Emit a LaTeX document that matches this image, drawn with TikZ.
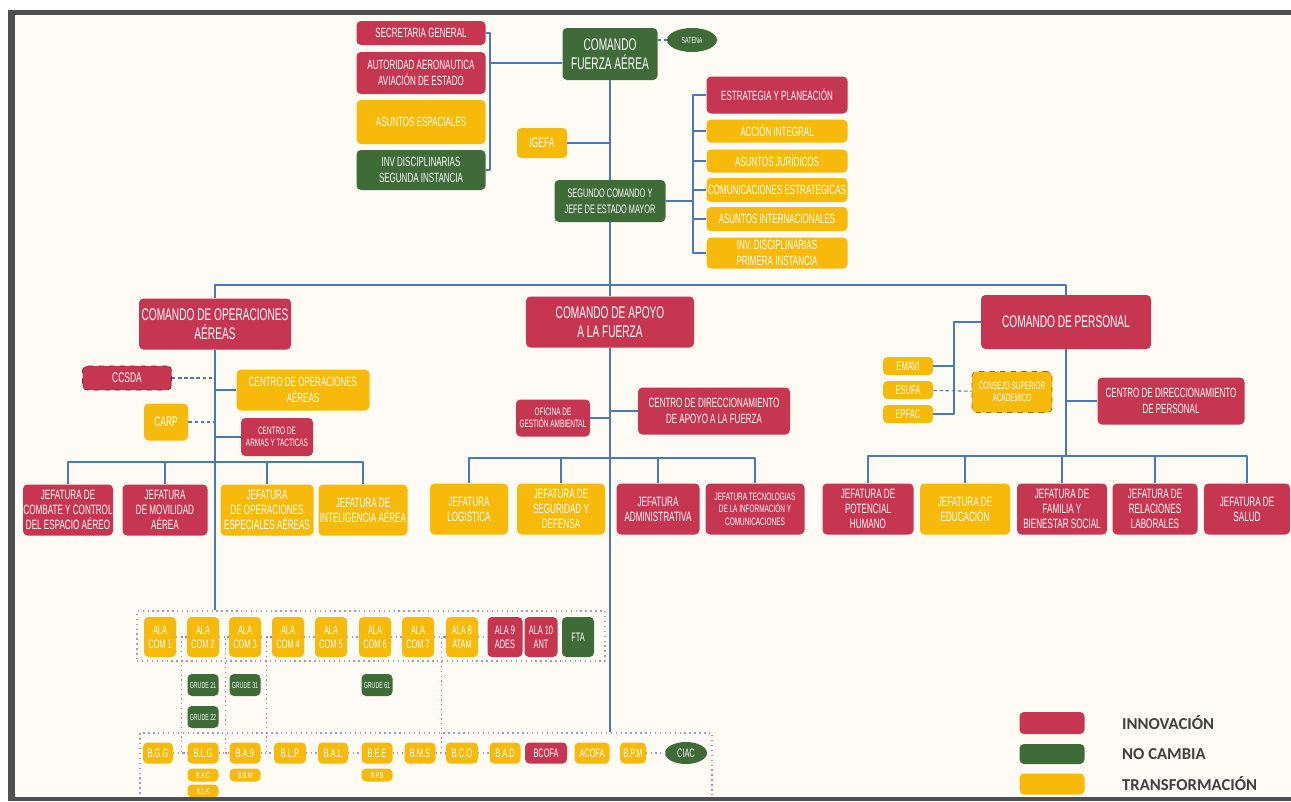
\documentclass[tikz,border=0pt]{standalone}
\usepackage{fontspec}
\setmainfont{Liberation Sans}[FakeStretch=0.6]
\newfontfamily\legfont{Carlito}
\usetikzlibrary{shapes.geometric,calc}
\definecolor{inno}{RGB}{199,54,80}
\definecolor{nocam}{RGB}{63,107,57}
\definecolor{trans}{RGB}{247,186,11}
\definecolor{linkblue}{RGB}{74,120,184}
\definecolor{framegray}{RGB}{150,160,190}
\definecolor{pinkdot}{RGB}{220,110,140}
\definecolor{bord}{RGB}{80,80,80}
\definecolor{paper}{RGB}{253,251,243}
\definecolor{legtxt}{RGB}{66,64,62}
\newcommand\fntL{\fontsize{9.6}{10.8}\selectfont}
\newcommand\fntM{\fontsize{7.6}{9}\selectfont}
\newcommand\fntJ{\fontsize{7.7}{8.6}\selectfont}
\newcommand\fntS{\fontsize{6.1}{7.1}\selectfont}
\newcommand\fntA{\fontsize{7}{8}\selectfont}
\newcommand\fntT{\fontsize{5}{5.8}\selectfont}
\begin{document}
\begin{tikzpicture}[x=0.02cm, y=-0.02cm, line join=round]
  \tikzset{box/.style={rounded corners=2.5pt, text=white, align=center, inner sep=0pt, font=\fntM}}
  \tikzset{inno/.style={box, fill=inno}}
  \tikzset{nocam/.style={box, fill=nocam}}
  \tikzset{trans/.style={box, fill=trans}}
  \tikzset{wh/.style 2 args={minimum width=#1*0.02cm, minimum height=#2*0.02cm}}
  \tikzset{link/.style={draw=linkblue, line width=0.6pt}}
  \tikzset{dlink/.style={link, dash pattern=on 2pt off 1.5pt}}
  \tikzset{sdot/.style={draw=framegray, dotted, line width=0.6pt}}
  \tikzset{pdot/.style={draw=pinkdot, dotted, line width=0.7pt}}
  \tikzset{frame/.style={draw=framegray, dotted, line width=0.8pt}}
  \tikzset{legtext/.style={anchor=west, text=legtxt, font=\legfont\bfseries\fontsize{9.5}{10}\selectfont}}

  \useasboundingbox (0,0) rectangle (1291,801);
  \fill[paper] (15,15) rectangle (1291,796);

  % frames of the wings and bases
  \node[frame, wh={468}{50}] (alas) at (371,636) {};
  \node[frame, wh={572}{66}] (bases) at (426,766) {};

  % top level
  \node[inno, wh={129}{24}] (sg) at (421,33) {SECRETARIA GENERAL};
  \node[inno, wh={129}{42}] (aut) at (421,73) {AUTORIDAD AERONAUTICA\\AVIACIÓN DE ESTADO};
  \node[trans, wh={129}{44}] (ae) at (421,122) {ASUNTOS ESPACIALES};
  \node[nocam, wh={129}{40}] (ids) at (421,170) {INV DISCIPLINARIAS\\SEGUNDA INSTANCIA};
  \node[nocam, wh={95}{52}, font=\fntL] (cfa) at (610,54) {COMANDO\\FUERZA AÉREA};
  \node[nocam, ellipse, wh={50}{24}, font=\fntT] (sat) at (692,40) {SATENA};
  \node[trans, wh={50}{30}, font=\fontsize{8}{9}\selectfont] (igefa) at (542,143) {IGEFA};
  \node[nocam, wh={111}{42}, font=\fontsize{7}{9}\selectfont] (sjem) at (610,201) {SEGUNDO COMANDO Y\\JEFE DE ESTADO MAYOR};
  \node[inno, wh={141}{37}] (ep) at (777,95) {ESTRATEGIA Y PLANEACIÓN};
  \node[trans, wh={141}{23}] (ai) at (777,131) {ACCIÓN INTEGRAL};
  \node[trans, wh={141}{23}] (aj) at (777,161) {ASUNTOS JURÍDICOS};
  \node[trans, wh={141}{24}] (ce) at (777,190) {COMUNICACIONES ESTRATEGICAS};
  \node[trans, wh={141}{24}] (aint) at (777,219) {ASUNTOS INTERNACIONALES};
  \node[trans, wh={141}{31}] (idp) at (777,253) {INV. DISCIPLINARIAS\\PRIMERA INSTANCIA};

  % commands
  \node[inno, wh={152}{51}, font=\fntL] (coa) at (215,324) {COMANDO DE OPERACIONES\\AÉREAS};
  \node[inno, wh={168}{51}, font=\fntL] (cada) at (610,322) {COMANDO DE APOYO\\A LA FUERZA};
  \node[inno, wh={170}{54}, font=\fntL] (cp) at (1066,322) {COMANDO DE PERSONAL};

  % operaciones aereas
  \node[inno, wh={89}{24}, draw=inno!60!black, dashed, font=\fontsize{8}{9}\selectfont] (ccsda) at (127,378) {CCSDA};
  \node[trans, wh={133}{41}] (coae) at (303,390) {CENTRO DE OPERACIONES\\AÉREAS};
  \node[trans, wh={44}{37}, font=\fontsize{8}{9}\selectfont] (carp) at (166,422) {CARP};
  \node[inno, wh={72}{38}, font=\fntS] (cat) at (277,437) {CENTRO DE\\ARMAS Y TACTICAS};
  \node[inno, wh={90}{51}, font=\fntJ] (jcc) at (68,510) {JEFATURA DE\\COMBATE Y CONTROL\\DEL ESPACIO AÉREO};
  \node[inno, wh={85}{51}, font=\fntJ] (jma) at (165,510) {JEFATURA\\DE MOVILIDAD\\AÉREA};
  \node[trans, wh={93}{51}, font=\fntJ] (joe) at (267,510) {JEFATURA\\DE OPERACIONES\\ESPECIALES AÉREAS};
  \node[trans, wh={89}{51}, font=\fntJ] (jia) at (363,510) {JEFATURA DE\\INTELIGENCIA AÉREA};

  % apoyo a la fuerza
  \node[inno, wh={74}{37}, font=\fntS] (oga) at (553,418) {OFICINA DE\\GESTIÓN AMBIENTAL};
  \node[inno, wh={152}{47}] (cda) at (714,411) {CENTRO DE DIRECCIONAMIENTO\\DE APOYO A LA FUERZA};
  \node[trans, wh={78}{51}, font=\fntJ] (jlog) at (469,509) {JEFATURA\\LOGISTICA};
  \node[trans, wh={88}{51}, font=\fntJ] (jsd) at (561,509) {JEFATURA DE\\SEGURIDAD Y\\DEFENSA};
  \node[inno, wh={83}{51}, font=\fntJ] (jadm) at (658,509) {JEFATURA\\ADMINISTRATIVA};
  \node[inno, wh={99}{51}, font=\fntS] (jtic) at (755,509) {JEFATURA TECNOLOGIAS\\DE LA INFORMACIÓN Y\\COMUNICACIONES};

  % personal
  \node[trans, wh={50}{18}, font=\fontsize{7.2}{8}\selectfont] (emavi) at (908,366) {EMAVI};
  \node[trans, wh={50}{18}, font=\fontsize{7.2}{8}\selectfont] (esufa) at (908,390) {ESUFA};
  \node[trans, wh={50}{18}, font=\fontsize{7.2}{8}\selectfont] (epfac) at (908,414) {EPFAC};
  \node[trans, wh={80}{41}, draw=trans!60!black, dashed, font=\fntS] (csa) at (1012,392) {CONSEJO SUPERIOR\\ACADEMICO};
  \node[inno, wh={147}{47}] (cdp) at (1171,401) {CENTRO DE DIRECCIONAMIENTO\\DE PERSONAL};
  \node[inno, wh={91}{51}, font=\fntJ] (jph) at (868,509) {JEFATURA DE\\POTENCIAL\\HUMANO};
  \node[trans, wh={90}{51}, font=\fntJ] (jed) at (965,509) {JEFATURA DE\\EDUCACIÓN};
  \node[inno, wh={90}{51}, font=\fntJ] (jfb) at (1062,509) {JEFATURA DE\\FAMILIA Y\\BIENESTAR SOCIAL};
  \node[inno, wh={85}{51}, font=\fntJ] (jrl) at (1155,509) {JEFATURA DE\\RELACIONES\\LABORALES};
  \node[inno, wh={86}{51}, font=\fntJ] (jsal) at (1247,509) {JEFATURA DE\\SALUD};

  % alas
  \node[trans, wh={32}{40}, font=\fntA] (a1) at (160,637) {ALA\\COM 1};
  \node[trans, wh={32}{40}, font=\fntA] (a2) at (203,637) {ALA\\COM 2};
  \node[trans, wh={32}{40}, font=\fntA] (a3) at (245,637) {ALA\\COM 3};
  \node[trans, wh={32}{40}, font=\fntA] (a4) at (288,637) {ALA\\COM 4};
  \node[trans, wh={32}{40}, font=\fntA] (a5) at (331,637) {ALA\\COM 5};
  \node[trans, wh={32}{40}, font=\fntA] (a6) at (375,637) {ALA\\COM 6};
  \node[trans, wh={32}{40}, font=\fntA] (a7) at (418,637) {ALA\\COM 7};
  \node[trans, wh={32}{40}, font=\fntA] (a8) at (462,637) {ALA 8\\ATAM};
  \node[inno, wh={35}{40}, font=\fntA] (a9) at (505,637) {ALA 9\\ADES};
  \node[inno, wh={33}{40}, font=\fntA] (a10) at (541,637) {ALA 10\\ANT};
  \node[nocam, wh={32}{40}, font=\fntA] (fta) at (578,637) {FTA};
  \node[nocam, wh={31}{22}, font=\fntT] (gr21) at (203,685) {GRUDE 21};
  \node[nocam, wh={31}{22}, font=\fntT] (gr31) at (245,685) {GRUDE 31};
  \node[nocam, wh={31}{22}, font=\fntT] (gr61) at (377,685) {GRUDE 61};
  \node[nocam, wh={31}{22}, font=\fntT] (gr22) at (203,717) {GRUDE 22};

  % bases
  \node[trans, wh={30}{21}, font=\fntA] (bgg) at (158,753) {B.G.G};
  \node[trans, wh={31}{21}, font=\fntA] (blg) at (203,753) {B.L.G};
  \node[trans, wh={31}{21}, font=\fntA] (ba9) at (245,753) {B.A.9};
  \node[trans, wh={32}{21}, font=\fntA] (blp) at (290,753) {B.L.P};
  \node[trans, wh={30}{21}, font=\fntA] (bal) at (333,753) {B.A.L};
  \node[trans, wh={31}{21}, font=\fntA] (bee) at (377,753) {B.E.E};
  \node[trans, wh={31}{21}, font=\fntA] (bms) at (420,753) {B.M.S};
  \node[trans, wh={32}{21}, font=\fntA] (bco) at (462,753) {B.C.O};
  \node[trans, wh={31}{21}, font=\fntA] (bad) at (505,753) {B.A.D};
  \node[inno, wh={42}{21}, font=\fntA] (bcofa) at (546,753) {BCOFA};
  \node[trans, wh={35}{21}, font=\fntA] (acofa) at (592,753) {ACOFA};
  \node[trans, wh={26}{21}, font=\fntA] (bpm) at (633,753) {B.P.M};
  \node[nocam, ellipse, wh={42}{22}, inner sep=0pt, font=\fntA] (ciac) at (686,753) {CIAC};
  \node[trans, wh={31}{13}, font=\fntT] (bac) at (203,775) {B.A.C};
  \node[trans, wh={31}{13}, font=\fntT] (blk) at (203,791) {B.L.K};
  \node[trans, wh={31}{13}, font=\fntT] (bbm) at (245,775) {B.B.M};
  \node[trans, wh={31}{13}, font=\fntT] (bpb) at (377,775) {B.P.B};

  % connectors, top
  \coordinate (lbr) at (490,63);
  \draw[link] (sg.east) -| (lbr) |- (ids.east);
  \draw[link] (lbr) -- (lbr -| cfa.west);
  \draw[dlink] (cfa.east |- sat) -- (sat);
  \draw[link] (cfa) -- (sjem);
  \draw[link] (igefa) -- (igefa -| cfa);
  \coordinate (rbr) at (693,201);
  \draw[link] (sjem) -- (rbr);
  \draw[link] (rbr) |- (ep.west);
  \draw[link] (rbr) |- (ai.west);
  \draw[link] (rbr) |- (aj.west);
  \draw[link] (rbr) |- (ce.west);
  \draw[link] (rbr) |- (aint.west);
  \draw[link] (rbr) |- (idp.west);

  % connectors, commands
  \coordinate (bus) at (610,285);
  \draw[link] (coa.north) |- (bus) -| (cp.north);
  \draw[link] (sjem) -- (cada);
  \draw[link] (cada.south) -- (cada.south |- bases.north);

  \draw[link] (coa.south) -- (coa.south |- alas.north);
  \draw[dlink] (ccsda) -- (ccsda -| coa.south);
  \draw[link] (coae) -- (coae -| coa.south);
  \draw[dlink] (carp) -- (carp -| coa.south);
  \draw[link] (cat) -- (cat -| coa.south);
  \coordinate (busl) at (215,462);
  \draw[link] (jcc.north) |- (busl) -| (jia.north);
  \draw[link] (jma.north) -- (jma.north |- busl);
  \draw[link] (joe.north) -- (joe.north |- busl);

  \draw[link] (oga) -- (oga -| cada.south);
  \draw[link] (cda) -- (cda -| cada.south);
  \coordinate (busm) at (610,458);
  \draw[link] (jlog.north) |- (busm) -| (jtic.north);
  \draw[link] (jsd.north) -- (jsd.north |- busm);
  \draw[link] (jadm.north) -- (jadm.north |- busm);

  \coordinate (busr) at (1066,456);
  \draw[link] (cp.south) -- (busr);
  \draw[link] (jph.north) |- (busr) -| (jsal.north);
  \draw[link] (jed.north) -- (jed.north |- busr);
  \draw[link] (jfb.north) -- (jfb.north |- busr);
  \draw[link] (jrl.north) -- (jrl.north |- busr);
  \draw[link] (cdp) -- (cdp -| cp.south);
  \coordinate (esc) at (954,322);
  \draw[link] (cp.west) -- (esc) |- (epfac.east);
  \draw[link] (emavi.east) -- (emavi.east -| esc);
  \draw[dlink] (esufa) -- (csa);

  % connectors, alas and bases
  \draw[sdot] (a1) -- (a2) -- (a3) -- (a4) -- (a5) -- (a6) -- (a7) -- (a8) -- (a9);
  \draw[sdot] (bgg) -- (blg) -- (ba9) -- (blp) -- (bal) -- (bee) -- (bms) -- (bco) -- (bad);
  \draw[sdot] (bpm) -- (ciac);
  \draw[pdot] (a2.west) -- ++(-5,0) |- (blg.west);
  \draw[pdot] (a3.west) -- ++(-3,0) |- (ba9.west);
  \draw[pdot] (a4.west) -- ++(-5,0) |- (blp.west);
  \draw[pdot] (a8.west) -- ++(-4,0) |- (bco.west);

  % legend
  \node[inno, wh={65}{22}] (lgi) at (1052,723) {};
  \node[nocam, wh={65}{20}] (lgn) at (1052,754) {};
  \node[trans, wh={65}{21}] (lgt) at (1052,784) {};
  \node[legtext] (lti) at (1116,723) {INNOVACIÓN};
  \node[legtext] (ltn) at (1116,754) {NO CAMBIA};
  \node[legtext] (ltt) at (1116,784) {TRANSFORMACIÓN};

  % border
  \fill[bord] (8,10) rectangle (1291,15);
  \fill[bord] (8,10) rectangle (15,801);
  \fill[bord] (8,797) rectangle (1291,801);
\end{tikzpicture}
\end{document}
